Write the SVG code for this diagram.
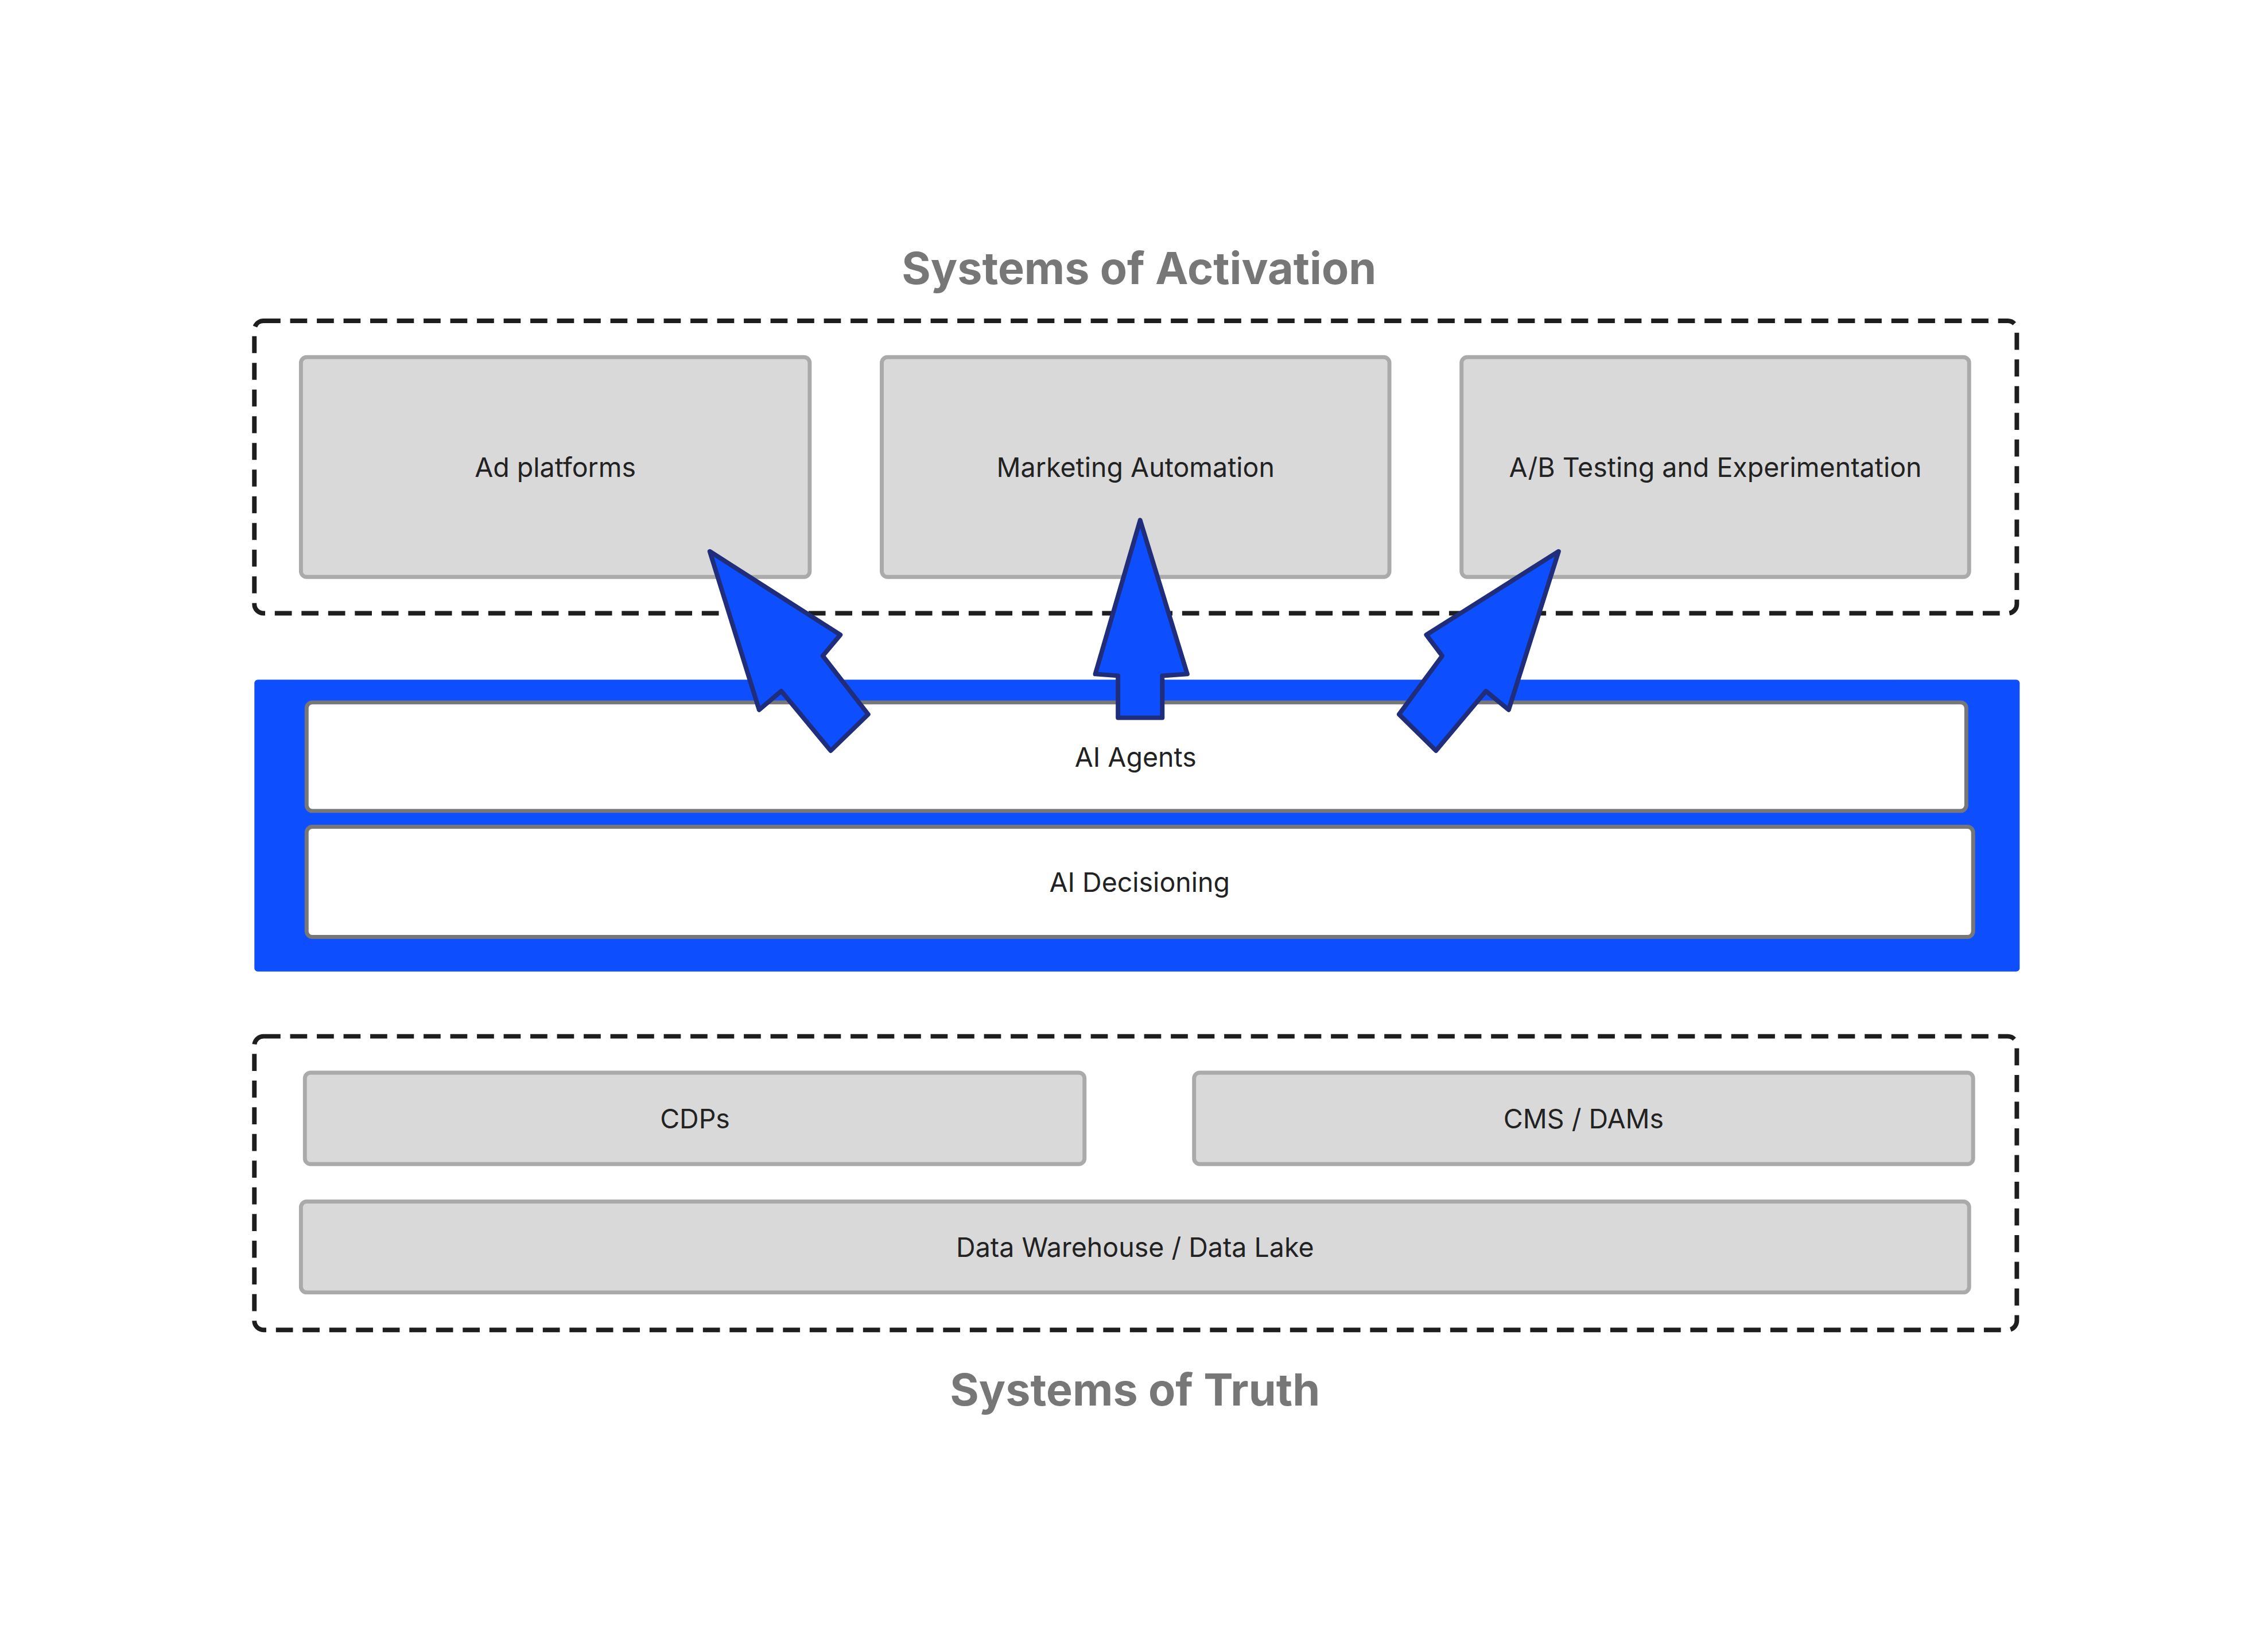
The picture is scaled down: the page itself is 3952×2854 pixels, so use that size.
<svg xmlns="http://www.w3.org/2000/svg" width="3952" height="2854" viewBox="0 0 3952 2854">
<style>
.t{font-family:Inter,"Liberation Sans",sans-serif;font-size:47px;fill:#222;text-anchor:middle;dominant-baseline:central}
.h{font-family:Inter,"Liberation Sans",sans-serif;font-size:78px;font-weight:bold;fill:#777;text-anchor:middle;dominant-baseline:central}
.g{fill:#d9d9d9;stroke:#aaa;stroke-width:7}
.w{fill:#fff;stroke:#777;stroke-width:7}
.d{fill:none;stroke:#1e1e1e;stroke-width:8;stroke-dasharray:30 17}
.a{fill:#0d4fff;stroke:#1f2d7a;stroke-width:8;stroke-linejoin:round}
</style>
<rect width="3952" height="2854" fill="#fff"/>
<g transform="scale(0.9894)">
<text class="h" x="2006" y="472">Systems of Activation</text>
<text class="h" x="1999" y="2447">Systems of Truth</text>
<g id="activation"><rect class="d" x="448" y="565" width="3104" height="515" rx="16"/></g>
<g id="ad"><rect class="g" x="530" y="629" width="896" height="387" rx="10"/><text class="t" x="978" y="823">Ad platforms</text></g>
<g id="ma"><rect class="g" x="1553" y="629" width="894" height="387" rx="10"/><text class="t" x="2000" y="823">Marketing Automation</text></g>
<g id="ab"><rect class="g" x="2574" y="629" width="894" height="387" rx="10"/><text class="t" x="3021" y="823">A/B Testing and Experimentation</text></g>
<g id="ai"><rect x="448" y="1197" width="3109" height="514" rx="6" fill="#0d4fff"/></g>
<g id="agents"><rect class="w" x="540" y="1237" width="2923" height="191" rx="10"/><text class="t" x="2000" y="1333">AI Agents</text></g>
<g id="decision"><rect class="w" x="540" y="1456" width="2935" height="194" rx="10"/><text class="t" x="2007" y="1553">AI Decisioning</text></g>
<g id="truth"><rect class="d" x="448" y="1825" width="3104" height="517" rx="16"/></g>
<g id="cdp"><rect class="g" x="537" y="1889" width="1373" height="161" rx="10"/><text class="t" x="1224" y="1970">CDPs</text></g>
<g id="cms"><rect class="g" x="2103" y="1889" width="1372" height="161" rx="10"/><text class="t" x="2789" y="1970">CMS / DAMs</text></g>
<g id="dw"><rect class="g" x="530" y="2116" width="2938" height="160" rx="10"/><text class="t" x="1999" y="2196">Data Warehouse / Data Lake</text></g>
<g id="connectors">
<polygon class="a" points="1250,971 1480,1118 1449,1155 1529,1258 1463,1322 1376,1217 1337,1250"/>
<polygon class="a" points="2008,916 2091,1187 2047,1190 2047,1264 1969,1264 1969,1190 1929,1187"/>
<polygon class="a" points="2745,971 2512,1118 2540,1155 2464,1258 2529,1322 2617,1217 2657,1250"/>
</g>
</g>
</svg>
